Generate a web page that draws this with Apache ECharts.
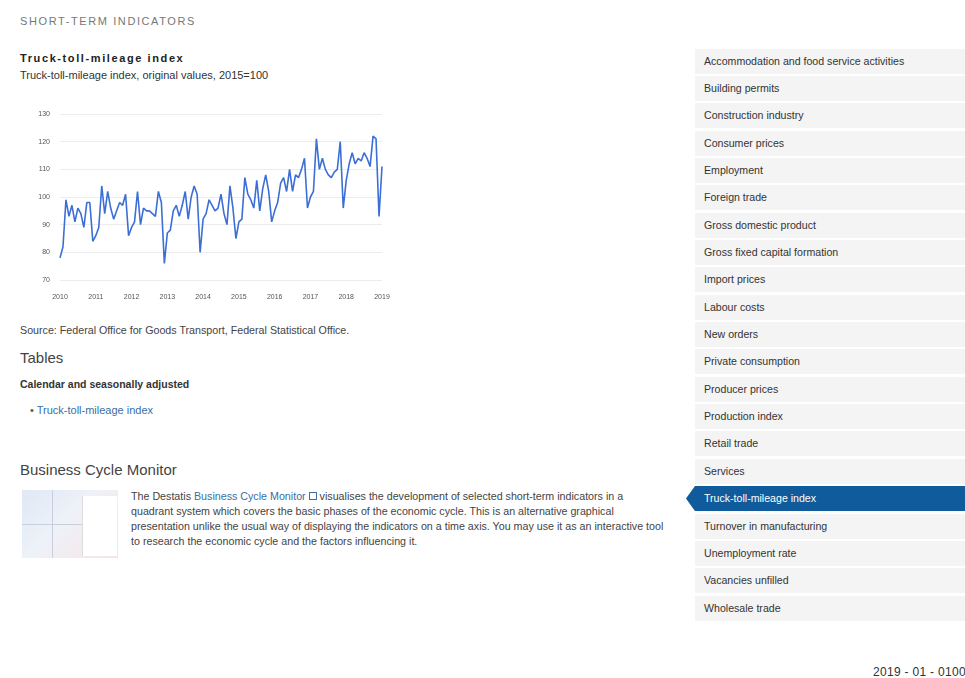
<!DOCTYPE html>
<html>
<head>
<meta charset="utf-8">
<script src="https://cdn.jsdelivr.net/npm/echarts@6/dist/echarts.min.js"></script>
<style>
body { margin: 0; width: 965px; height: 678px; overflow: hidden; background: #fff; position: relative; font-family: "Liberation Sans", Arial, sans-serif; color: #333; }
.a { position: absolute; white-space: nowrap; }
.nav { position: absolute; left: 695px; width: 270px; height: 25px; line-height: 25px; background: #f4f4f4; font-size: 10.6px; color: #333; padding-left: 9px; box-sizing: border-box; }
.nav.on { left: 686px; width: 279px; padding-left: 18px; background: #0f5b9b; color: #fff; clip-path: polygon(9px 0, 100% 0, 100% 100%, 9px 100%, 0 50%); }
.lnk { color: #3a6ea5; }
#thumb { position: absolute; left: 22px; top: 490px; width: 96px; height: 68px; background: linear-gradient(135deg, #dfe8f5 0%, #eef2f8 45%, #f7e3e6 100%); }
#thumb .r { position: absolute; left: 60px; top: 6px; width: 34px; height: 60px; background: #fff; border-left: 1px solid #ddd; }
#thumb .h { position: absolute; left: 0; top: 34px; width: 60px; height: 1px; background: #c8cfdc; }
#thumb .v { position: absolute; left: 30px; top: 0; width: 1px; height: 68px; background: #c8cfdc; }
</style>
</head>
<body>
<div class="a" style="left:20px;top:15px;font-size:11px;letter-spacing:1.6px;color:#777;">SHORT-TERM INDICATORS</div>
<div class="a" style="left:20px;top:52px;font-size:11px;font-weight:bold;letter-spacing:1.6px;color:#222;">Truck-toll-mileage index</div>
<div class="a" style="left:20px;top:69px;font-size:11px;color:#333;">Truck-toll-mileage index, original values, 2015=100</div>

<div id="chart" class="a" style="left:0;top:100px;width:400px;height:215px;"></div>

<div class="a" style="left:20px;top:324px;font-size:10.7px;color:#444;">Source: Federal Office for Goods Transport, Federal Statistical Office.</div>
<div class="a" style="left:20px;top:349px;font-size:15px;color:#444;">Tables</div>
<div class="a" style="left:20px;top:378px;font-size:10.5px;font-weight:bold;color:#333;">Calendar and seasonally adjusted</div>
<div class="a" style="left:30px;top:404px;font-size:11px;color:#555;">&bull; <span class="lnk">Truck-toll-mileage index</span></div>

<div class="a" style="left:20px;top:461px;font-size:15px;color:#444;">Business Cycle Monitor</div>
<div id="thumb"><div class="v"></div><div class="h"></div><div class="r"></div></div>
<div class="a" style="left:131px;top:489px;font-size:10.7px;line-height:15px;color:#444;">
The Destatis <span class="lnk">Business Cycle Monitor</span> <span style="display:inline-block;width:6px;height:6px;border:1px solid #3a6ea5;"></span> visualises the development of selected short-term indicators in a<br>
quadrant system which covers the basic phases of the economic cycle. This is an alternative graphical<br>
presentation unlike the usual way of displaying the indicators on a time axis. You may use it as an interactive tool<br>
to research the economic cycle and the factors influencing it.
</div>

<div id="navbox"></div>
<div class="a" style="left:873px;top:665px;font-size:12px;letter-spacing:0.3px;color:#333;">2019 - 01 - 0100</div>

<script>
const years = ['2010', '2011', '2012', '2013', '2014', '2015', '2016', '2017', '2018', '2019']

// monthly values, original values 2015=100
const v2010 = [78, 82, 99, 93, 97, 91, 96, 94, 89, 98, 98, 84]
const v2011 = [86, 89, 104, 94, 102, 96, 92, 95, 98, 97, 101, 86]
const v2012 = [89, 91, 102, 90, 96, 95, 95, 94, 93, 102, 98, 76]
const v2013 = [87, 88, 95, 97, 93, 97, 102, 92, 100, 104, 101, 80]
const v2014 = [92, 94, 99, 97, 95, 96, 101, 94, 90, 104, 96, 85]
const v2015 = [91, 92, 107, 101, 99, 96, 106, 95, 103, 108, 102, 91]
const v2016 = [95, 98, 105, 107, 102, 110, 102, 108, 107, 110, 114, 96]
const v2017 = [100, 102, 121, 110, 114, 110, 108, 107, 109, 110, 120, 96]
const v2018 = [106, 112, 116, 112, 114, 113, 116, 114, 111, 122, 121, 93]
const v2019 = [111]

const navItems = [
	'Accommodation and food service activities', 'Building permits', 'Construction industry', 'Consumer prices',
	'Employment', 'Foreign trade', 'Gross domestic product', 'Gross fixed capital formation', 'Import prices',
	'Labour costs', 'New orders', 'Private consumption', 'Producer prices', 'Production index', 'Retail trade',
	'Services', 'Truck-toll-mileage index', 'Turnover in manufacturing', 'Unemployment rate', 'Vacancies unfilled',
	'Wholesale trade',
]

const values = [].concat(v2010, v2011, v2012, v2013, v2014, v2015, v2016, v2017, v2018, v2019)
const months = values.map((v, i) => years[Math.floor(i / 12)] + '-' + String((i % 12) + 1).padStart(2, '0'))

let nav = ''
navItems.forEach((t, i) => {
	const on = t === 'Truck-toll-mileage index' ? ' on' : ''
	nav += `<div class="nav${on}" style="top:${(48.5 + i * 27.35).toFixed(1)}px">${t}</div>`
})
document.getElementById('navbox').innerHTML = nav

const myChart = echarts.init(document.getElementById('chart'), null, { renderer: 'canvas' })

let option = {
	animation: false,
	grid: { left: 60, right: 18, top: 14, bottom: 35 },
	xAxis: {
		type: 'category',
		boundaryGap: false,
		data: months,
		axisLine: { show: false },
		axisTick: { show: false },
		axisLabel: {
			interval: 11,
			fontSize: 7,
			color: '#555',
			margin: 14,
			formatter: (v) => v.slice(0, 4),
		},
	},
	yAxis: {
		type: 'value',
		min: 70,
		max: 130,
		interval: 10,
		axisLine: { show: false },
		axisTick: { show: false },
		axisLabel: { fontSize: 7, color: '#555', margin: 10 },
		splitLine: { lineStyle: { color: '#ececec', width: 1 } },
	},
	series: [
		{
			name: 'Truck-toll-mileage index',
			type: 'line',
			data: values,
			showSymbol: false,
			lineStyle: { color: '#3c6fd6', width: 1.6 },
		},
	],
}
myChart.setOption(option)
</script>
</body>
</html>
